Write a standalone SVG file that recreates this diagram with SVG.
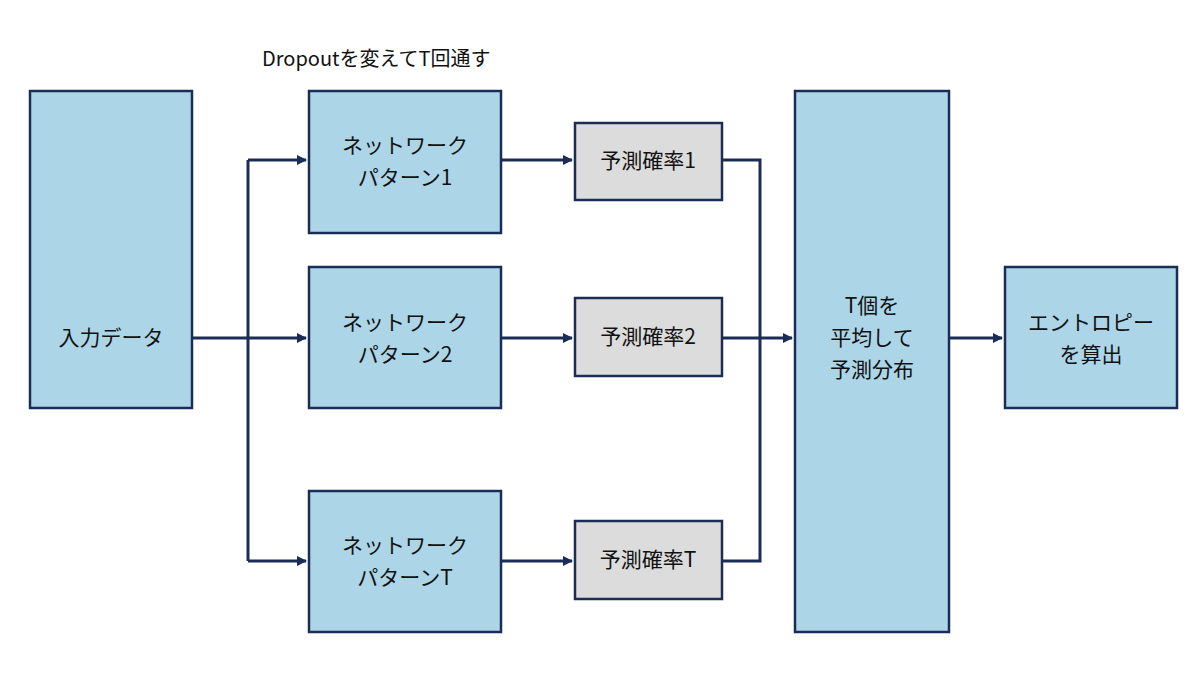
<svg xmlns="http://www.w3.org/2000/svg" width="1200" height="675" viewBox="0 0 1200 675">
<style>
.b{fill:#acd6e8;stroke:#1b2c57;stroke-width:2.5}
.g{fill:#dcdcdc;stroke:#1b2c57;stroke-width:2.5}
.t{font-family:"Noto Sans CJK JP","Noto Sans",sans-serif;font-size:21px;fill:#111;text-anchor:middle}
.c{fill:none;stroke:#1b2c57;stroke-width:3}
</style>
<defs><marker id="a" markerWidth="10" markerHeight="10" refX="9" refY="5" orient="auto" markerUnits="userSpaceOnUse" viewBox="0 0 10 10"><path d="M0,0L10,5L0,10z" fill="#1b2c57"/></marker></defs>
<rect width="1200" height="675" fill="#fff"/>
<text x="262" y="66" font-family="Noto Sans CJK JP,Noto Sans,sans-serif" font-size="20" fill="#111">Dropoutを変えてT回通す</text>
<g id="connectors">
<path class="c" d="M192,338H248M248,160V561"/>
<path class="c" d="M248,160H306" marker-end="url(#a)"/>
<path class="c" d="M248,338H306" marker-end="url(#a)"/>
<path class="c" d="M248,561H306" marker-end="url(#a)"/>
<path class="c" d="M501,160H572" marker-end="url(#a)"/>
<path class="c" d="M501,338H572" marker-end="url(#a)"/>
<path class="c" d="M501,561H572" marker-end="url(#a)"/>
<path class="c" d="M722,160H760V561H722M722,338H760"/>
<path class="c" d="M760,338H792" marker-end="url(#a)"/>
<path class="c" d="M949,338H1002" marker-end="url(#a)"/>
</g>
<g id="input"><rect class="b" x="30" y="91" width="162" height="317"/><text class="t" x="111" y="345">入力データ</text></g>
<g id="net1"><rect class="b" x="309" y="91" width="192" height="142"/><text class="t" x="405" y="153">ネットワーク</text><text class="t" x="405" y="185">パターン1</text></g>
<g id="net2"><rect class="b" x="309" y="267" width="192" height="141"/><text class="t" x="405" y="330">ネットワーク</text><text class="t" x="405" y="362">パターン2</text></g>
<g id="netT"><rect class="b" x="309" y="491" width="192" height="141"/><text class="t" x="405" y="553">ネットワーク</text><text class="t" x="405" y="585">パターンT</text></g>
<g id="p1"><rect class="g" x="575" y="123" width="147" height="77"/><text class="t" x="648" y="168">予測確率1</text></g>
<g id="p2"><rect class="g" x="575" y="298" width="147" height="78"/><text class="t" x="648" y="344">予測確率2</text></g>
<g id="pT"><rect class="g" x="575" y="521" width="147" height="78"/><text class="t" x="648" y="567">予測確率T</text></g>
<g id="avg"><rect class="b" x="795" y="91" width="154" height="541"/><text class="t" x="872" y="313">T個を</text><text class="t" x="872" y="345">平均して</text><text class="t" x="872" y="377">予測分布</text></g>
<g id="ent"><rect class="b" x="1005" y="267" width="172" height="141"/><text class="t" x="1091" y="330">エントロピー</text><text class="t" x="1091" y="362">を算出</text></g>
</svg>
